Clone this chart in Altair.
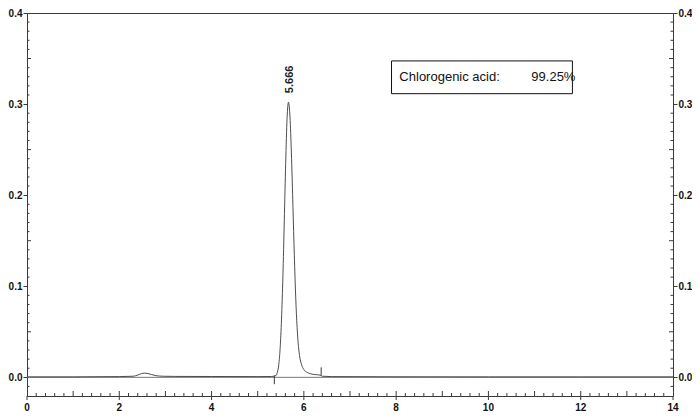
import altair as alt
import pandas as pd

# chromatogram trace (time in min, absorbance in AU)
time = [0.0, 1.0, 2.0, 2.30, 2.40, 2.48, 2.55, 2.62, 2.70, 2.80, 2.95,
        3.2, 4.0, 5.0, 5.30,
        5.396, 5.426, 5.456, 5.486, 5.516, 5.546, 5.576, 5.606, 5.636, 5.666,
        5.696, 5.726, 5.756, 5.786, 5.816, 5.846, 5.876, 5.906,
        5.95, 6.00, 6.07, 6.14, 6.25, 6.35, 6.40, 6.6,
        8.0, 10.0, 12.0, 14.0]
absorb = [0.0005, 0.0005, 0.0008, 0.0012, 0.0025, 0.0040, 0.0046, 0.0042, 0.0030, 0.0018, 0.0012,
          0.0010, 0.0009, 0.0008, 0.0009,
          0.0020, 0.0056, 0.014, 0.032, 0.064, 0.111, 0.172, 0.235, 0.284, 0.302,
          0.289, 0.252, 0.201, 0.147, 0.098, 0.062, 0.038, 0.024,
          0.014, 0.0085, 0.0055, 0.0040, 0.0030, 0.0025, 0.0012, 0.0008,
          0.0006, 0.0005, 0.0005, 0.0005]

# integration markers
marker_t = [5.36, 6.375]
marker_lo = [-0.0075, 0.002]
marker_hi = [0.002, 0.011]

peak_time = [5.666]
peak_top = [0.312]
peak_label = ["5.666"]

compound = "Chlorogenic acid:"
purity = "99.25%"

x_labels = [0, 2, 4, 6, 8, 10, 12, 14]
y_labels = [0.0, 0.1, 0.2, 0.3, 0.4]
x_major = list(range(1, 14))
x_minor = [round(i * 0.2, 1) for i in range(1, 70) if i % 5 != 0]
y_mid = [0.05, 0.15, 0.25, 0.35]
y_minor = [round(-0.02 + i * 0.01, 2) for i in range(1, 42)]
y_minor = [v for v in y_minor if round(v * 100) % 5 != 0]

W, H = 646, 383
XD = [0, 14]
YD = [-0.0205, 0.4]
INK = "#3a3a3a"

xs = alt.Scale(domain=XD, nice=False, zero=False)
ys = alt.Scale(domain=YD, nice=False, zero=False)

trace = pd.DataFrame({"t": time, "a": absorb})

line = alt.Chart(trace).mark_line(color=INK, strokeWidth=0.9, interpolate="monotone").encode(
    x=alt.X("t:Q", scale=xs, axis=None),
    y=alt.Y("a:Q", scale=ys, axis=alt.Axis(values=y_labels, format=".1f", title=None, grid=False,
                                           orient="left", labelFontWeight="bold", labelFontSize=10,
                                           labelColor="#111", tickSize=4, tickColor=INK,
                                           domainColor=INK, labelPadding=1)),
)

right_axis = alt.Chart(pd.DataFrame({"v": y_labels})).mark_point(opacity=0).encode(
    y=alt.Y("v:Q", scale=ys, axis=alt.Axis(values=y_labels, format=".1f", title=None, grid=False,
                                           orient="right", labelFontWeight="bold", labelFontSize=10,
                                           labelColor="#111", tickSize=4, tickColor=INK,
                                           domainColor=INK, labelPadding=1)),
    x=alt.value(W),
)

# x tick labels as text marks placed through the x scale
x_text = alt.Chart(pd.DataFrame({"t": x_labels})).mark_text(
    fontSize=10, fontWeight="bold", color="#111", baseline="middle", align="center"
).encode(
    x=alt.X("t:Q", scale=xs, axis=None),
    y=alt.value(H + 12),
    text=alt.Text("t:Q", format="d"),
)
x_out_ticks = alt.Chart(pd.DataFrame({"t": x_labels})).mark_rule(color=INK, strokeWidth=1).encode(
    x=alt.X("t:Q", scale=xs, axis=None), y=alt.value(H), y2=alt.value(H + 4)
)

zero_line = alt.Chart(pd.DataFrame({"z": [0.0]})).mark_rule(color="#777", strokeWidth=1).encode(
    y=alt.Y("z:Q", scale=ys, axis=None)
)

xmin_rules = alt.Chart(pd.DataFrame({"t": x_minor})).mark_rule(color=INK, strokeWidth=1).encode(
    x=alt.X("t:Q", scale=xs, axis=None), y=alt.value(H), y2=alt.value(H - 3)
)
xmaj_rules = alt.Chart(pd.DataFrame({"t": x_major})).mark_rule(color=INK, strokeWidth=1).encode(
    x=alt.X("t:Q", scale=xs, axis=None), y=alt.value(H), y2=alt.value(H - 5)
)

def ytick(vals, x0, x1):
    return alt.Chart(pd.DataFrame({"v": vals})).mark_rule(color=INK, strokeWidth=1).encode(
        y=alt.Y("v:Q", scale=ys, axis=None), x=alt.value(x0), x2=alt.value(x1)
    )

yl_minor = ytick(y_minor, 0, 2.5)
yl_mid = ytick(y_mid, 0, 4)
yr_minor = ytick(y_minor, W - 2.5, W)
yr_mid = ytick(y_mid, W - 4, W)

markers = alt.Chart(pd.DataFrame({"t": marker_t, "lo": marker_lo, "hi": marker_hi})).mark_rule(
    color=INK, strokeWidth=1).encode(
    x=alt.X("t:Q", scale=xs, axis=None),
    y=alt.Y("lo:Q", scale=ys, axis=None),
    y2="hi:Q",
)

peak_text = alt.Chart(pd.DataFrame({"t": peak_time, "a": peak_top, "s": peak_label})).mark_text(
    angle=270, align="left", baseline="middle", fontSize=11, fontWeight="bold", color="#222", dy=2
).encode(
    x=alt.X("t:Q", scale=xs, axis=None),
    y=alt.Y("a:Q", scale=ys, axis=None),
    text="s:N",
)

box = alt.Chart(pd.DataFrame({"x": [7.90], "x2": [11.82], "y": [0.3474], "y2": [0.3114]})).mark_rect(
    fill="white", stroke="#111", strokeWidth=1).encode(
    x=alt.X("x:Q", scale=xs, axis=None), x2="x2:Q",
    y=alt.Y("y:Q", scale=ys, axis=None), y2="y2:Q",
)

box_text = alt.Chart(pd.DataFrame({"x": [8.07, 10.93], "y": [0.3294, 0.3294], "s": [compound, purity]})).mark_text(
    align="left", baseline="middle", fontSize=13, color="#111"
).encode(
    x=alt.X("x:Q", scale=xs, axis=None),
    y=alt.Y("y:Q", scale=ys, axis=None),
    text="s:N",
)

chart = alt.layer(
    zero_line, xmin_rules, xmaj_rules, x_out_ticks, yl_minor, yl_mid, yr_minor, yr_mid,
    markers, line, right_axis, peak_text, box, box_text, x_text
).properties(
    width=W, height=H,
    autosize=alt.AutoSizeParams(type="none"),
    padding={"left": 19, "top": 5, "right": 19, "bottom": 16},
    background="white",
).configure(
    font="Liberation Sans",
).configure_view(
    stroke=INK, strokeWidth=1
)

chart.save("out.html", embed_options={"renderer": "svg", "actions": False})
